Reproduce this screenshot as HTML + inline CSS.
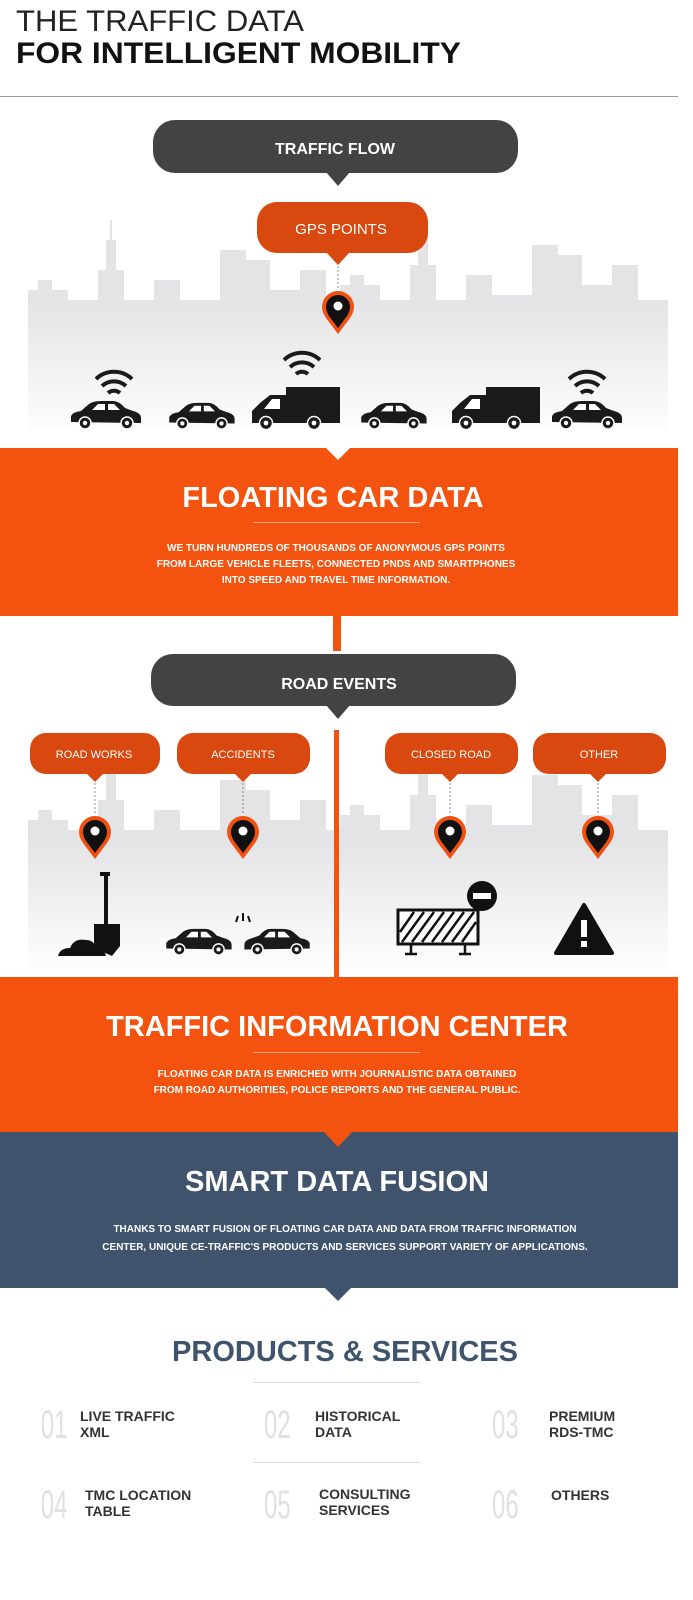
<!DOCTYPE html>
<html><head><meta charset="utf-8"><style>
html,body{margin:0;padding:0;background:#fff;}
svg{display:block;}
text{font-family:"Liberation Sans",sans-serif;}
</style></head><body>
<svg width="693" height="1600" viewBox="0 0 693 1600" xmlns="http://www.w3.org/2000/svg">
<defs>
<linearGradient id="fade" x1="0" y1="0" x2="0" y2="1">
<stop offset="0" stop-color="#fff" stop-opacity="0"/>
<stop offset="1" stop-color="#fff" stop-opacity="1"/>
</linearGradient>
<symbol id="car" viewBox="0 0 76 30">
<path d="M4 22 L4 16 Q6 12 14 11 L22 4 Q26 1 34 1 L46 1 Q52 1 58 8 L66 11 Q74 13 74 18 L74 23 Z" fill="#1a1a1a"/>
<path d="M25 10 L31 4 L38 4 L38 10 Z M41 4 L47 4 L53 10 L41 10 Z" fill="#fff"/>
<circle cx="18" cy="23" r="6" fill="#1a1a1a" stroke="#fff" stroke-width="1.5"/><circle cx="18" cy="23" r="2.2" fill="#fff"/>
<circle cx="60" cy="23" r="6" fill="#1a1a1a" stroke="#fff" stroke-width="1.5"/><circle cx="60" cy="23" r="2.2" fill="#fff"/>
</symbol>
<symbol id="van" viewBox="0 0 92 44">
<path d="M2 38 L2 26 L10 18 L20 10 L36 10 L36 2 L90 2 L90 38 Z" fill="#1a1a1a"/>
<path d="M14 24 L22 14 L30 14 L30 24 Z" fill="#fff"/>
<circle cx="16" cy="38" r="6.5" fill="#1a1a1a" stroke="#fff" stroke-width="1.5"/><circle cx="16" cy="38" r="2.4" fill="#fff"/>
<circle cx="64" cy="38" r="6.5" fill="#1a1a1a" stroke="#fff" stroke-width="1.5"/><circle cx="64" cy="38" r="2.4" fill="#fff"/>
</symbol>
<symbol id="wifi" viewBox="0 0 44 30">
<path d="M4 12 A26 26 0 0 1 40 12" fill="none" stroke="#1a1a1a" stroke-width="4"/>
<path d="M10 19 A18 18 0 0 1 34 19" fill="none" stroke="#1a1a1a" stroke-width="4"/>
<path d="M16 26 A9 9 0 0 1 28 26" fill="none" stroke="#1a1a1a" stroke-width="4"/>
</symbol>
<symbol id="pin" viewBox="0 0 36 46">
<path d="M18 44 L6 28 Q2 22 2 17 A16 16 0 0 1 34 17 Q34 22 30 28 Z" fill="#f05010"/>
<path d="M18 38 L9 26 Q6 21 6 17 A12 12 0 0 1 30 17 Q30 21 27 26 Z" fill="#111"/>
<circle cx="18" cy="16" r="4.5" fill="#fff"/>
</symbol>
<g id="sky">
<rect x="0" y="80" width="40" height="140"/><rect x="10" y="70" width="14" height="20"/>
<rect x="40" y="100" width="30" height="120"/><rect x="70" y="60" width="26" height="160"/>
<rect x="78" y="30" width="10" height="40"/><rect x="82" y="10" width="2" height="20"/>
<rect x="96" y="110" width="30" height="110"/><rect x="126" y="70" width="26" height="150"/>
<rect x="152" y="90" width="40" height="130"/><rect x="192" y="40" width="26" height="180"/>
<rect x="218" y="50" width="24" height="170"/><rect x="242" y="80" width="30" height="140"/>
<rect x="272" y="60" width="26" height="160"/><rect x="298" y="100" width="30" height="120"/>
</g>
</defs>

<!-- Header -->
<text x="16" y="31" font-size="30" fill="#222" textLength="288" lengthAdjust="spacingAndGlyphs">THE TRAFFIC DATA</text>
<text x="16" y="63" font-size="30" fill="#111" font-weight="bold" textLength="445" lengthAdjust="spacingAndGlyphs">FOR INTELLIGENT MOBILITY</text>
<rect x="0" y="96" width="678" height="1" fill="#999"/>

<!-- Skyline 1 -->
<g fill="#e4e4e6">
<use href="#sky" transform="translate(28,210)"/>
<use href="#sky" transform="translate(340,205)"/>
<rect x="28" y="300" width="640" height="130"/>
</g>
<rect x="20" y="300" width="660" height="140" fill="url(#fade)"/>

<!-- Traffic flow bubble -->
<rect x="153" y="120" width="365" height="53" rx="22" fill="#434343"/>
<path d="M326 172 L338 186 L350 172 Z" fill="#434343"/>
<text x="335" y="154" font-size="16" font-weight="bold" fill="#fff" text-anchor="middle">TRAFFIC FLOW</text>

<!-- GPS points -->
<rect x="257" y="202" width="171" height="51" rx="20" fill="#d9480f"/>
<path d="M326 252 L338 265 L350 252 Z" fill="#d9480f"/>
<text x="341" y="234" font-size="15" fill="#fff" text-anchor="middle">GPS POINTS</text>
<line x1="338" y1="266" x2="338" y2="290" stroke="#888" stroke-dasharray="2,2"/>
<use href="#pin" x="320" y="290" width="36" height="46"/>

<!-- Vehicles -->
<use href="#wifi" x="92" y="367" width="44" height="30"/>
<use href="#car" x="67" y="400" width="76" height="30"/>
<use href="#car" x="163" y="402" width="76" height="28"/>
<use href="#wifi" x="280" y="348" width="44" height="30"/>
<use href="#van" x="250" y="385" width="92" height="44"/>
<use href="#car" x="355" y="402" width="76" height="28"/>
<use href="#van" x="450" y="385" width="92" height="44"/>
<use href="#wifi" x="565" y="367" width="44" height="30"/>
<use href="#car" x="548" y="400" width="76" height="30"/>

<!-- Floating car data -->
<rect x="0" y="448" width="678" height="168" fill="#f4520f"/>
<path d="M326 448 L338 460 L350 448 Z" fill="#fff"/>
<text x="333" y="507" font-size="29" font-weight="bold" fill="#fff" text-anchor="middle">FLOATING CAR DATA</text>
<rect x="253" y="522" width="167" height="1" fill="#f9a27d"/>
<g font-size="10" font-weight="bold" fill="#fff" text-anchor="middle">
<text x="336" y="551">WE TURN HUNDREDS OF THOUSANDS OF ANONYMOUS GPS POINTS</text>
<text x="336" y="567">FROM LARGE VEHICLE FLEETS, CONNECTED PNDS AND SMARTPHONES</text>
<text x="336" y="583">INTO SPEED AND TRAVEL TIME INFORMATION.</text>
</g>
<rect x="333" y="615" width="8" height="36" fill="#f4520f"/>

<!-- Skyline 2 -->
<g fill="#e4e4e6">
<use href="#sky" transform="translate(28,740)"/>
<use href="#sky" transform="translate(340,735)"/>
<rect x="28" y="830" width="640" height="140"/>
</g>
<rect x="20" y="840" width="660" height="135" fill="url(#fade)"/>

<!-- Road events -->
<rect x="151" y="654" width="365" height="52" rx="22" fill="#434343"/>
<path d="M326 705 L338 719 L350 705 Z" fill="#434343"/>
<text x="339" y="689" font-size="16" font-weight="bold" fill="#fff" text-anchor="middle">ROAD EVENTS</text>
<rect x="334" y="730" width="5" height="248" fill="#f4520f"/>

<g font-size="11" fill="#fff" text-anchor="middle">
<rect x="30" y="733" width="130" height="41" rx="16" fill="#d9480f"/><path d="M86 773 L95 782 L104 773 Z" fill="#d9480f"/>
<text x="94" y="758">ROAD WORKS</text>
<rect x="177" y="733" width="133" height="41" rx="16" fill="#d9480f"/><path d="M234 773 L243 782 L252 773 Z" fill="#d9480f"/>
<text x="243" y="758">ACCIDENTS</text>
<rect x="385" y="733" width="133" height="41" rx="16" fill="#d9480f"/><path d="M441 773 L450 782 L459 773 Z" fill="#d9480f"/>
<text x="451" y="758">CLOSED ROAD</text>
<rect x="533" y="733" width="133" height="41" rx="16" fill="#d9480f"/><path d="M589 773 L598 782 L607 773 Z" fill="#d9480f"/>
<text x="599" y="758">OTHER</text>
</g>
<g stroke="#888" stroke-dasharray="2,2">
<line x1="95" y1="783" x2="95" y2="815"/><line x1="243" y1="783" x2="243" y2="815"/>
<line x1="450" y1="783" x2="450" y2="815"/><line x1="598" y1="783" x2="598" y2="815"/>
</g>
<use href="#pin" x="77" y="815" width="36" height="46"/>
<use href="#pin" x="225" y="815" width="36" height="46"/>
<use href="#pin" x="432" y="815" width="36" height="46"/>
<use href="#pin" x="580" y="815" width="36" height="46"/>

<!-- shovel -->
<rect x="100" y="872" width="10" height="4" fill="#111"/>
<rect x="104" y="874" width="4" height="52" fill="#111"/>
<path d="M94 924 L120 924 L120 946 L112 956 L94 948 Z" fill="#111"/>
<path d="M58 956 Q60 948 70 948 Q74 938 86 940 Q94 940 96 948 Q104 948 106 956 Z" fill="#111"/>
<!-- crashed cars -->
<use href="#car" x="160" y="928" width="76" height="28"/>
<g transform="translate(316,928) scale(-1,1)"><use href="#car" x="0" y="0" width="76" height="28"/></g>
<g stroke="#111" stroke-width="2"><line x1="238" y1="916" x2="236" y2="922"/><line x1="243" y1="913" x2="243" y2="921"/><line x1="248" y1="916" x2="250" y2="922"/></g>
<!-- barrier -->
<rect x="398" y="910" width="80" height="34" fill="#fff" stroke="#111" stroke-width="3"/>
<g stroke="#111" stroke-width="2.5">
<line x1="402" y1="942" x2="424" y2="912"/><line x1="412" y1="942" x2="434" y2="912"/><line x1="422" y1="942" x2="444" y2="912"/><line x1="432" y1="942" x2="454" y2="912"/><line x1="442" y1="942" x2="464" y2="912"/><line x1="452" y1="942" x2="474" y2="912"/><line x1="462" y1="942" x2="476" y2="922"/><line x1="400" y1="932" x2="414" y2="912"/>
<line x1="411" y1="944" x2="411" y2="954"/><line x1="465" y1="944" x2="465" y2="954"/>
<line x1="405" y1="954" x2="417" y2="954"/><line x1="459" y1="954" x2="471" y2="954"/>
</g>
<circle cx="482" cy="896" r="15" fill="#111"/><rect x="473" y="893" width="18" height="6" fill="#fff"/>
<!-- warning -->
<path d="M584 905 L612 953 L556 953 Z" fill="#111" stroke="#111" stroke-width="4" stroke-linejoin="round"/>
<rect x="581" y="920" width="6" height="17" fill="#fff"/><rect x="581" y="941" width="6" height="6" fill="#fff"/>

<!-- Traffic info center -->
<rect x="0" y="977" width="678" height="156" fill="#f4520f"/>
<text x="337" y="1036" font-size="29" font-weight="bold" fill="#fff" text-anchor="middle">TRAFFIC INFORMATION CENTER</text>
<rect x="253" y="1052" width="167" height="1" fill="#f9a27d"/>
<g font-size="10" font-weight="bold" fill="#fff" text-anchor="middle">
<text x="337" y="1077">FLOATING CAR DATA IS ENRICHED WITH JOURNALISTIC DATA OBTAINED</text>
<text x="337" y="1093">FROM ROAD AUTHORITIES, POLICE REPORTS AND THE GENERAL PUBLIC.</text>
</g>

<!-- Smart data fusion -->
<rect x="0" y="1132" width="678" height="156" fill="#3f546c"/>
<path d="M324 1132 L338 1147 L352 1132 Z" fill="#f4520f"/>
<path d="M324 1287 L338 1301 L352 1287 Z" fill="#3f546c"/>
<text x="337" y="1191" font-size="29" font-weight="bold" fill="#fff" text-anchor="middle">SMART DATA FUSION</text>
<g font-size="10" font-weight="bold" fill="#fff" text-anchor="middle">
<text x="345" y="1232">THANKS TO SMART FUSION OF FLOATING CAR DATA AND DATA FROM TRAFFIC INFORMATION</text>
<text x="345" y="1250">CENTER, UNIQUE CE-TRAFFIC'S PRODUCTS AND SERVICES SUPPORT VARIETY OF APPLICATIONS.</text>
</g>

<!-- Products -->
<text x="345" y="1361" font-size="29" font-weight="bold" fill="#3f546c" text-anchor="middle">PRODUCTS &amp; SERVICES</text>
<rect x="253" y="1382" width="168" height="1" fill="#ddd"/>
<rect x="253" y="1462" width="168" height="1" fill="#ddd"/>
<g font-size="40" fill="#e0e0e0" transform="scale(0.6,1)">
<text x="68" y="1438">01</text><text x="440" y="1438">02</text><text x="820" y="1438">03</text>
<text x="68" y="1518">04</text><text x="440" y="1518">05</text><text x="820" y="1518">06</text>
</g>
<g font-size="14" font-weight="bold" fill="#333">
<text x="80" y="1421">LIVE TRAFFIC</text><text x="80" y="1437">XML</text>
<text x="315" y="1421">HISTORICAL</text><text x="315" y="1437">DATA</text>
<text x="549" y="1421">PREMIUM</text><text x="549" y="1437">RDS-TMC</text>
<text x="85" y="1500">TMC LOCATION</text><text x="85" y="1516">TABLE</text>
<text x="319" y="1499">CONSULTING</text><text x="319" y="1515">SERVICES</text>
<text x="551" y="1500">OTHERS</text>
</g>
</svg>
</body></html>
